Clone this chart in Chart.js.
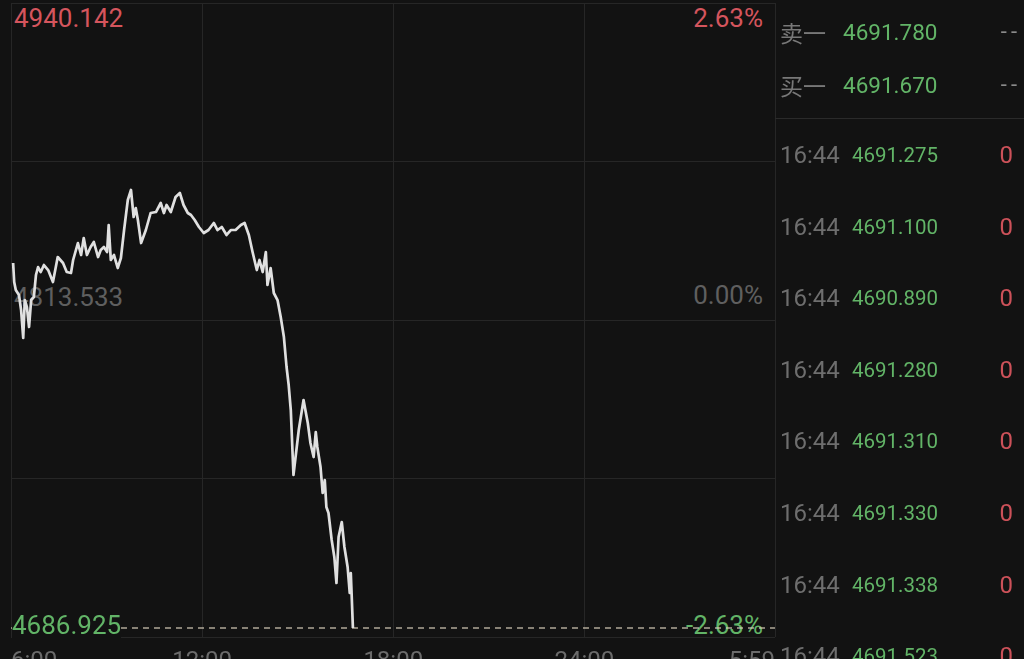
<!DOCTYPE html>
<html lang="zh">
<head>
<meta charset="utf-8">
<title>分时走势</title>
<script src="https://cdn.jsdelivr.net/npm/chart.js@4.4.1/dist/chart.umd.min.js"></script>
<style>
  html, body {
    margin: 0;
    padding: 0;
    width: 1024px;
    height: 659px;
    overflow: hidden;
    background: #121212;
    font-family: Roboto, "Noto Sans CJK SC", sans-serif;
  }
  #wrap { position: absolute; left: 0; top: 0; width: 1024px; height: 680px; z-index: 1; }
  .lbl { position: absolute; height: 30px; line-height: 30px; white-space: nowrap; }
  .back { z-index: 0; }
  .front { z-index: 2; }
  .big { font-size: 26px; }
  .red { color: #d4555d; }
  .green { color: #62b467; }
  .grey { color: #5f5f5f; }
  .sep { position: absolute; left: 775px; top: 118px; width: 249px; height: 1px; background: #2a2a2a; z-index: 2; }
</style>
</head>
<body>

<!-- labels of the price area (behind the canvas so the line runs over them) -->
<div class="lbl back big red" style="left:14px; top:3px;">4940.142</div>
<div class="lbl back big red" style="right:261px; top:3px;">2.63%</div>
<div class="lbl back big grey" style="left:14px; top:282px;">4813.533</div>
<div class="lbl back big grey" style="right:261px; top:280px;">0.00%</div>
<div class="lbl front big green" style="left:12px; top:610px; background:#121212;">4686.925</div>
<div class="lbl back big green" style="right:261px; top:610px;">-2.63%</div>

<div id="wrap"><canvas id="chartMinute" width="1024" height="680"></canvas></div>

<div class="sep"></div>
<div id="panel"></div>

<script>
/* ===========================
   Daten
   =========================== */

// x-Achse: Minuten ab 6:00
const tickMinutes = [0, 360, 720, 1080, 1439];
const tickLabels = ["6:00", "12:00", "18:00", "24:00", "5:59"];

const preClose = 4813.533;
const dayHigh = 4940.142;
const dayLow = 4686.925;

const minutes = [
  4, 6, 9, 15, 19, 23, 26, 30, 34, 38, 43, 47, 51, 56, 62, 70, 79, 88, 98, 105,
  113, 117, 126, 132, 137, 143, 150, 156, 164, 169, 175, 181, 184, 188, 194, 201, 207, 213, 220, 226,
  231, 235, 239, 245, 254, 263, 273, 282, 288, 293, 301, 310, 318, 325, 333, 339, 346, 354, 363, 372,
  382, 389, 397, 406, 414, 423, 433, 440, 448, 455, 463, 468, 474, 480, 483, 489, 495, 502, 508, 514,
  519, 523, 527, 532, 542, 551, 559, 564, 570, 574, 577, 583, 587, 591, 594, 598, 604, 609, 613, 617,
  623, 628, 634, 638, 640, 642, 644
];

const prices = [
  4834.80, 4827.10, 4823.86, 4821.84, 4815.76, 4804.41, 4819.81, 4816.97, 4808.87, 4819.81,
  4821.03, 4829.94, 4833.18, 4831.15, 4833.99, 4831.96, 4827.10, 4837.23, 4834.80, 4831.15,
  4830.75, 4836.02, 4842.90, 4838.04, 4844.93, 4838.04, 4841.28, 4843.31, 4837.23, 4840.07,
  4841.28, 4839.26, 4850.20, 4836.02, 4838.04, 4832.78, 4836.83, 4848.17, 4860.33, 4864.38,
  4853.44, 4857.08, 4852.22, 4842.90, 4848.17, 4855.06, 4855.46, 4859.11, 4855.06, 4858.30,
  4855.46, 4861.54, 4863.16, 4858.30, 4855.06, 4854.25, 4852.22, 4849.39, 4846.96, 4848.17,
  4851.01, 4848.17, 4849.39, 4846.15, 4848.17, 4848.17, 4850.20, 4851.01, 4846.15, 4839.26,
  4831.96, 4836.02, 4831.15, 4839.26, 4825.89, 4832.78, 4822.65, 4819.81, 4812.92, 4804.82,
  4792.67, 4785.37, 4775.24, 4748.91, 4767.14, 4779.30, 4769.98, 4761.87, 4756.20, 4766.33,
  4760.25, 4752.15, 4741.62, 4746.88, 4735.94, 4733.51, 4722.57, 4715.69, 4705.15, 4723.79,
  4729.87, 4719.74, 4711.64, 4701.10, 4709.20, 4698.27, 4686.93
];

// Rechte Spalte: Orderbuch + Ticks
const bookLabels = ["卖一", "买一"];
const bookPrices = ["4691.780", "4691.670"];
const bookVols = ["--", "--"];

const tradeTimes = ["16:44", "16:44", "16:44", "16:44", "16:44", "16:44", "16:44", "16:44"];
const tradePrices = ["4691.275", "4691.100", "4690.890", "4691.280", "4691.310", "4691.330", "4691.338", "4691.523"];
const tradeVols = ["0", "0", "0", "0", "0", "0", "0", "0"];

/* ===========================
   Rechte Spalte
   =========================== */

const panel = document.getElementById("panel");

function addLabel(text, css) {
  const d = document.createElement("div");
  d.className = "lbl front";
  d.textContent = text;
  d.style.cssText += css;
  panel.appendChild(d);
}

bookLabels.forEach((t, i) => {
  const top = 17 + i * 53;
  addLabel(t, `left:780px; top:${top}px; font-size:23px; color:#787878; font-family:"Noto Sans CJK SC";`);
  addLabel(bookPrices[i], `left:843px; top:${top}px; font-size:22.5px; color:#62b467;`);
  addLabel(bookVols[i], `right:3px; top:${top}px; font-size:22px; letter-spacing:4px; color:#8a8a8a;`);
});

tradeTimes.forEach((t, i) => {
  const top = Math.round(140 + i * 71.6);
  addLabel(t, `left:780px; top:${top}px; font-size:24px; color:#6e6e6e;`);
  addLabel(tradePrices[i], `left:852px; top:${top}px; font-size:20.5px; color:#62b467;`);
  addLabel(tradeVols[i], `right:11px; top:${top}px; font-size:24px; color:#cc5159;`);
});

/* ===========================
   Chart
   =========================== */

// Preisbereich: Tageshoch oben, etwas Luft unter dem Tagestief
const yMax = dayHigh;
const yMin = dayLow - (dayHigh - dayLow) * 0.0144;

const gridColor = "#262626";

new Chart(document.getElementById("chartMinute"), {
  type: "line",
  data: {
    datasets: [
      {
        data: minutes.map((m, i) => ({ x: m, y: prices[i] })),
        borderColor: "#e0e0e0",
        borderWidth: 2.7,
        borderJoinStyle: "round",
        pointRadius: 0,
        tension: 0
      },
      {
        // Linie beim Tagestief
        data: [{ x: tickMinutes[0], y: dayLow }, { x: tickMinutes[4], y: dayLow }],
        borderColor: "rgba(215,205,185,0.8)",
        borderWidth: 1.5,
        borderDash: [6, 5],
        pointRadius: 0
      }
    ]
  },
  options: {
    responsive: false,
    animation: false,
    layout: { padding: { left: 10, right: 249, top: 3, bottom: 0 } },
    plugins: {
      legend: { display: false },
      tooltip: { enabled: false }
    },
    scales: {
      x: {
        type: "linear",
        min: tickMinutes[0],
        max: tickMinutes[4],
        afterBuildTicks: s => { s.ticks = tickMinutes.map(v => ({ value: v })); },
        afterFit: s => { s.height = 43; },
        grid: { color: gridColor, drawTicks: false },
        border: { display: false },
        ticks: {
          color: "#6b6b6b",
          font: { family: "Roboto", size: 24 },
          padding: 11,
          align: "inner",
          maxRotation: 0,
          autoSkip: false,
          callback: (v, i) => tickLabels[i]
        }
      },
      y: {
        min: yMin,
        max: yMax,
        afterBuildTicks: s => {
          const step = (yMax - yMin) / 4;
          s.ticks = [0, 1, 2, 3, 4].map(k => ({ value: yMin + k * step }));
        },
        afterFit: s => { s.width = 0; },
        grid: { color: gridColor, drawTicks: false },
        border: { display: false },
        ticks: { display: false }
      }
    }
  }
});
</script>
</body>
</html>
